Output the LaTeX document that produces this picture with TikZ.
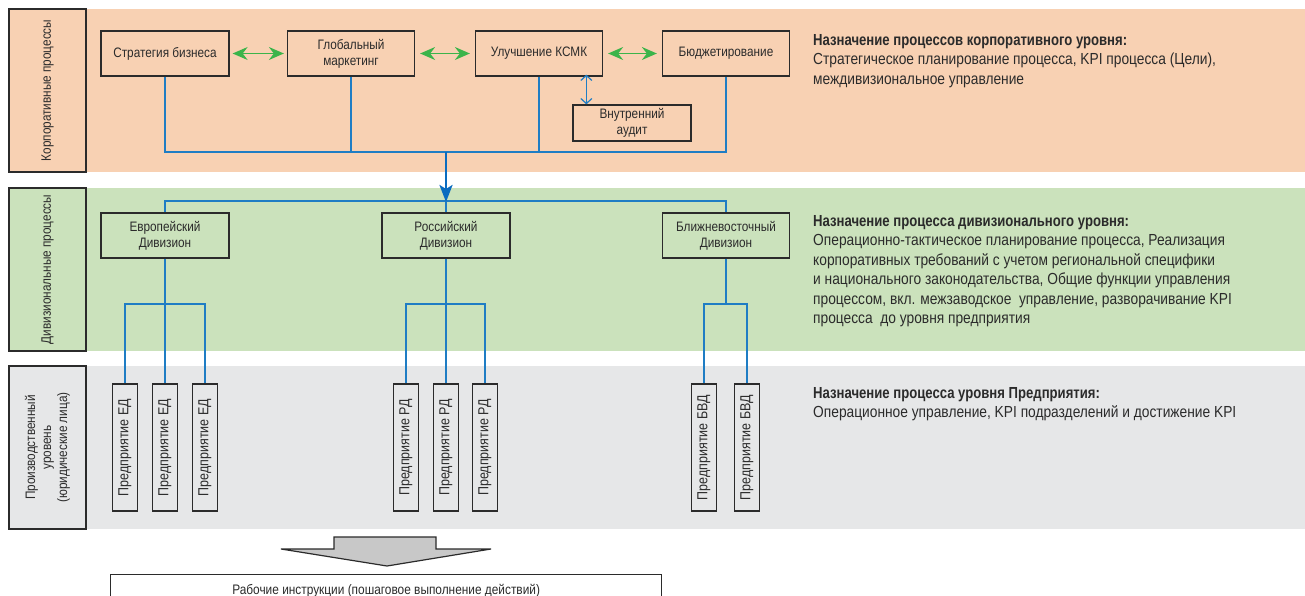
\documentclass[tikz,border=0pt]{standalone}
\usepackage{fontspec}
\setmainfont[UprightFeatures={FakeStretch=0.86}, BoldFeatures={FakeStretch=0.82}]{Liberation Sans}
\usetikzlibrary{arrows.meta}
\definecolor{peach}{HTML}{F8D1B3}
\definecolor{lgreen}{HTML}{CBE2BC}
\definecolor{lgray}{HTML}{E6E7E8}
\definecolor{bline}{HTML}{1F7DC4}
\definecolor{bthick}{HTML}{0A6CC0}
\definecolor{garrow}{HTML}{3BB44A}
\definecolor{txt}{HTML}{2B2B2B}
\definecolor{bigarrow}{HTML}{C8C8C8}
\begin{document}
\begin{tikzpicture}[x=1pt,y=-1pt,
  box/.style={draw=txt, line width=1.3pt, align=center, text=txt, inner sep=1pt,
     font=\fontsize{13.7}{16}\selectfont},
  pbox/.style={box, fill=peach, minimum width=127pt, minimum height=45pt},
  gbox/.style={box, fill=lgreen, minimum width=128pt, minimum height=45pt},
  ebox/.style={box, fill=lgray, rotate=90, minimum width=127pt, minimum height=25pt,
     font=\fontsize{14.5}{16}\selectfont},
  labbox/.style={box, rotate=90, minimum width=163pt, minimum height=77pt},
  blue/.style={draw=bline, line width=1.5pt},
  garr/.style={draw=garrow, line width=1.3pt, {Stealth[length=15pt,width=13pt,inset=5pt]}-{Stealth[length=15pt,width=13pt,inset=5pt]}},
  desc/.style={anchor=north west, align=left, text=txt, inner sep=0pt,
     font=\fontsize{16}{19.5}\selectfont}
]
\useasboundingbox (0,0) rectangle (1305,596);
\clip (0,0) rectangle (1305,596);
\fill[white] (0,0) rectangle (1305,596);
% bands
\fill[peach] (86,9) rectangle (1305,172);
\fill[lgreen] (86,188) rectangle (1305,351);
\fill[lgray] (86,366) rectangle (1305,529);
\node[labbox, fill=peach] (lc) at (47.5,90.5) {Корпоративные процессы};
\node[labbox, fill=lgreen] (ld) at (47.5,269.5) {Дивизиональные процессы};
\node[labbox, fill=lgray] (lp) at (47.5,447.5) {Производственный\\уровень\\(юридические лица)};

% corporate boxes
\node[pbox, minimum width=128pt] (strat) at (165,53.5) {Стратегия бизнеса};
\node[pbox] (glob) at (351,53.5) {Глобальный\\маркетинг};
\node[pbox] (ksmk) at (539,53.5) {Улучшение КСМК};
\node[pbox] (budg) at (726,53.5) {Бюджетирование};
\node[pbox, minimum width=118pt, minimum height=36pt] (audit) at (632,123) {Внутренний\\аудит};

\draw[garr] ([xshift=3pt]strat.east) -- ([xshift=-3pt]glob.west);
\draw[garr] ([xshift=5pt]glob.east) -- ([xshift=-5pt]ksmk.west);
\draw[garr] ([xshift=5pt]ksmk.east) -- ([xshift=-5pt]budg.west);
\draw[draw=bline, line width=1.2pt, {Straight Barb[length=5pt,width=11pt]}-{Straight Barb[length=5pt,width=11pt]}] ([yshift=2pt]ksmk.south -| audit.north west) ++(14,0) coordinate (ax) -- (ax |- audit.north);

\coordinate (bus) at (446,152);
\draw[blue] (strat.south) |- (budg.south |- bus) -- (budg.south);
\draw[blue] (glob.south) -- (glob.south |- bus);
\draw[blue] (ksmk.south) -- (ksmk.south |- bus);

% divisional
\node[gbox] (eur) at (165,235.5) {Европейский\\Дивизион};
\node[gbox] (rus) at (446,235.5) {Российский\\Дивизион};
\node[gbox, minimum width=127pt] (bvd) at (726,235.5) {Ближневосточный\\Дивизион};
\coordinate (dbus) at (446,201);
\draw[blue] (eur.north) |- (bvd.north |- dbus) -- (bvd.north);
\draw[blue] (rus.north) -- (rus.north |- dbus);
\draw[draw=bthick, line width=2.6pt, -{Stealth[length=17pt,width=13pt,inset=4pt]}] (bus) -- ([yshift=-1pt]dbus);

% enterprises
\node[ebox] (ed1) at (125,447.5) {Предприятие ЕД};
\node[ebox] (ed2) at (165,447.5) {Предприятие ЕД};
\node[ebox] (ed3) at (205,447.5) {Предприятие ЕД};
\node[ebox] (rd1) at (406,447.5) {Предприятие РД};
\node[ebox] (rd2) at (446,447.5) {Предприятие РД};
\node[ebox] (rd3) at (485,447.5) {Предприятие РД};
\node[ebox] (bd1) at (704,447.5) {Предприятие БВД};
\node[ebox] (bd2) at (747,447.5) {Предприятие БВД};
\coordinate (br) at (0,304);
\draw[blue] (eur.south) -- (ed2.east);
\draw[blue] (ed1.east) |- (ed3.east |- br) -- (ed3.east);
\draw[blue] (rus.south) -- (rd2.east);
\draw[blue] (rd1.east) |- (rd3.east |- br) -- (rd3.east);
\draw[blue] (bvd.south) -- (bvd.south |- br);
\draw[blue] (bd1.east) |- (bd2.east |- br) -- (bd2.east);

% big arrow
\draw[draw=txt, fill=bigarrow, line width=1.2pt, line join=miter]
  (334,537) -- (436,537) -- (436,549) -- (491,549) -- (387,566) -- (281,549) -- (334,549) -- cycle;
\node[box, fill=white, anchor=north west, minimum width=551pt, minimum height=32pt, text height=10pt, inner ysep=6pt, font=\fontsize{13.8}{15}\selectfont] (wi) at (110,574) {Рабочие инструкции (пошаговое выполнение действий)};

% descriptions
\node[desc] (d1) at (813,34) {\textbf{Назначение процессов корпоративного уровня:}\\Стратегическое планирование процесса, KPI процесса (Цели),\\междивизиональное управление};
\node[desc] (d2) at (813,215) {\textbf{Назначение процесса дивизионального уровня:}\\Операционно-тактическое планирование процесса, Реализация\\корпоративных требований с учетом региональной специфики\\и национального законодательства, Общие функции управления\\процессом, вкл. межзаводское\ \ управление, разворачивание KPI\\процесса\ \ до уровня предприятия};
\node[desc] (d3) at (813,387) {\textbf{Назначение процесса уровня Предприятия:}\\Операционное управление, KPI подразделений и достижение KPI};
\end{tikzpicture}
\end{document}
